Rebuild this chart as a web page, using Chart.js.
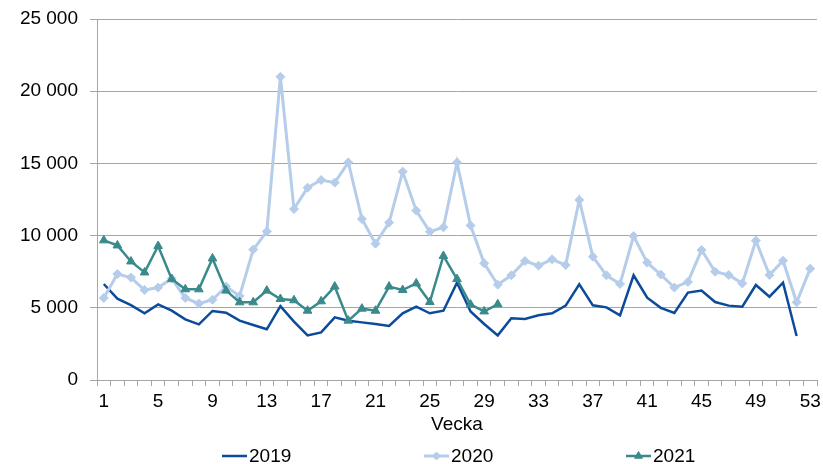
<!DOCTYPE html>
<html><head><meta charset="utf-8">
<script src="https://cdn.jsdelivr.net/npm/chart.js@4"></script>
<style>html,body{margin:0;padding:0;background:#fff}#wrap{width:823px;height:464px}</style>
</head><body><div id="wrap"><canvas id="c" width="823" height="464"></canvas></div>
<script>
const weeks = ['1','2','3','4','5','6','7','8','9','10','11','12','13','14','15','16','17','18','19','20','21','22','23','24','25','26','27','28','29','30','31','32','33','34','35','36','37','38','39','40','41','42','43','44','45','46','47','48','49','50','51','52','53'];
const v2019 = [6650,5630,5190,4620,5240,4800,4200,3850,4780,4660,4110,3810,3510,5120,4040,3090,3300,4340,4110,3990,3880,3740,4620,5080,4620,4800,6740,4750,3880,3090,4270,4220,4480,4620,5150,6620,5170,5030,4480,7250,5700,5000,4640,6050,6190,5400,5150,5080,6580,5770,6740,3050,null];
const v2020 = [5680,7340,7090,6230,6400,7020,5680,5290,5560,6470,5820,9030,10290,21000,11840,13320,13850,13670,15070,11150,9440,10900,14430,11730,10270,10570,15070,10700,8080,6600,7250,8240,7920,8360,7960,12470,8540,7250,6650,9970,8130,7300,6400,6790,9000,7500,7270,6690,9650,7270,8260,5380,7710];
const v2021 = [9670,9320,8210,7450,9280,6990,6280,6280,8420,6190,5380,5380,6190,5610,5520,4800,5450,6470,4110,4940,4800,6470,6230,6690,5400,8590,6990,5220,4750,5240];
const seriesNames = ['2019','2020','2021'];
const xTitle = 'Vecka';
const yTicks = [0,5000,10000,15000,20000,25000];

const C19 = '#0b4b99', C20 = '#b5cdea', C21 = '#3a8a8b';
const FONT = "'Liberation Sans', Arial, sans-serif";

const legendPlugin = {
  id: 'customLegend',
  afterDraw(chart) {
    const ctx = chart.ctx;
    const y = 456;
    const starts = [222, 424, 626];
    chart.data.datasets.forEach((ds, i) => {
      const x0 = starts[i];
      ctx.save();
      ctx.strokeStyle = ds.borderColor;
      ctx.lineWidth = ds.borderWidth;
      ctx.beginPath(); ctx.moveTo(x0, y); ctx.lineTo(x0 + 25, y); ctx.stroke();
      if (ds.pointRadius > 0) {
        ctx.fillStyle = ds.pointBackgroundColor;
        ctx.strokeStyle = ds.pointBorderColor;
        ctx.lineWidth = 1;
        Chart.helpers.drawPoint(ctx, {pointStyle: ds.pointStyle, radius: ds.pointRadius - 0.5, borderWidth: 1}, x0 + 12.5, y);
      }
      ctx.fillStyle = '#000';
      ctx.font = "19px " + FONT;
      ctx.textBaseline = 'middle';
      ctx.textAlign = 'left';
      ctx.fillText(ds.label, x0 + 27, y + 1);
      ctx.restore();
    });
  }
};

new Chart(document.getElementById('c'), {
  type: 'line',
  data: {
    labels: weeks,
    datasets: [
      {label: seriesNames[0], data: v2019, borderColor: C19, backgroundColor: C19, borderWidth: 2.5, pointRadius: 0, pointHoverRadius: 0, order: 3},
      {label: seriesNames[1], data: v2020, borderColor: C20, backgroundColor: C20, borderWidth: 3, pointStyle: 'rectRot', pointRadius: 4.5, pointBackgroundColor: C20, pointBorderColor: C20, pointBorderWidth: 1, order: 2},
      {label: seriesNames[2], data: v2021, borderColor: C21, backgroundColor: C21, borderWidth: 2.5, pointStyle: 'triangle', pointRadius: 5, pointBackgroundColor: C21, pointBorderColor: C21, pointBorderWidth: 1, order: 1}
    ]
  },
  options: {
    responsive: false,
    animation: false,
    layout: {padding: {top: 19, right: 6, bottom: 28, left: 0}},
    plugins: {legend: {display: false}, tooltip: {enabled: false}},
    elements: {line: {tension: 0}},
    scales: {
      x: {
        offset: true,
        grid: {display: true, drawOnChartArea: false, drawTicks: true, tickLength: 6, color: '#a6a6a6', offset: true},
        border: {display: true, color: '#a6a6a6', width: 1},
        ticks: {
          autoSkip: false, maxRotation: 0, minRotation: 0, padding: 4,
          color: '#000', font: {family: FONT, size: 19},
          callback: function(value, index) { return index % 4 === 0 ? this.getLabelForValue(value) : ''; }
        },
        title: {display: true, text: xTitle, color: '#000', font: {family: FONT, size: 19}, padding: 0},
        afterFit: s => { s.height = 56; s.paddingLeft = 0; s.paddingRight = 0; }
      },
      y: {
        min: 0, max: 25000,
        afterBuildTicks: s => { s.ticks = yTicks.map(v => ({value: v})); },
        grid: {color: '#a6a6a6', lineWidth: 1, tickLength: 7},
        border: {display: true, color: '#a6a6a6', width: 1},
        ticks: {
          padding: 12, color: '#000', font: {family: FONT, size: 19},
          callback: v => String(v).replace(/\B(?=(\d{3})+(?!\d))/g, ' ')
        },
        afterFit: s => { s.width = 97; s.paddingTop = 0; s.paddingBottom = 0; }
      }
    }
  },
  plugins: [legendPlugin]
});
</script>
</body></html>
